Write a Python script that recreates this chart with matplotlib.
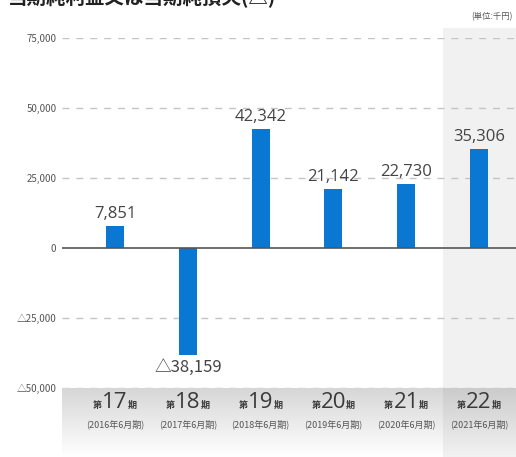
import matplotlib
matplotlib.use("Agg")
import matplotlib.pyplot as plt
import numpy as np

plt.rcParams['font.family'] = ['Noto Sans CJK JP', 'DejaVu Sans']

periods = ["17", "18", "19", "20", "21", "22"]
fiscal = ["(2016年6月期)", "(2017年6月期)", "(2018年6月期)", "(2019年6月期)", "(2020年6月期)", "(2021年6月期)"]
values = [7851, -38159, 42342, 21142, 22730, 35306]
yticks = [75000, 50000, 25000, 0, -25000, -50000]
ytick_labels = ["75,000", "50,000", "25,000", "0", "△25,000", "△50,000"]
title = "当期純利益又は当期純損失(△)"
unit = "(単位:千円)"

W, H = 516, 457
fig = plt.figure(figsize=(W / 100, H / 100), dpi=100)

def fx(px):
    return px / W

def fy(py):
    return 1 - py / H

xl = (-0.73, 5.51)
# category band with gradient
band = fig.add_axes([fx(62), fy(457), fx(516) - fx(62), fy(388) - fy(457)])
grad = np.linspace(0, 1, 100).reshape(-1, 1)
band.imshow(grad, aspect='auto', cmap=matplotlib.colors.LinearSegmentedColormap.from_list('g', ['#ffffff', '#d6d6d6']),
            extent=[xl[0], xl[1], 0, 1], origin='lower', zorder=0)
band.imshow(grad, aspect='auto', cmap=matplotlib.colors.LinearSegmentedColormap.from_list('g2', ['#f2f2f2', '#cbcbcb']),
            extent=[4.5, xl[1], 0, 1], origin='lower', zorder=1)
band.set_xlim(*xl)
band.set_ylim(0, 1)
band.axis('off')
for i, (p, f) in enumerate(zip(periods, fiscal)):
    band.text(i, 0.79, p, ha='center', va='center', fontsize=16, color='#3a3a3a', family=['Open Sans', 'DejaVu Sans'])
    band.annotate("第", (i, 0.74), xytext=(-12.5, 0), textcoords='offset points', ha='center', va='center', fontsize=6.5, color='#3a3a3a', fontweight='bold')
    band.annotate("期", (i, 0.74), xytext=(12.5, 0), textcoords='offset points', ha='center', va='center', fontsize=6.5, color='#3a3a3a', fontweight='bold')
    band.text(i, 0.47, f, ha='center', va='center', fontsize=6.5, color='#555555')

ax = fig.add_axes([fx(62), fy(388), fx(516) - fx(62), fy(38) - fy(388)])
ax.set_xlim(*xl)
ax.set_ylim(-50000, 75000)
ax.axvspan(4.5, xl[1], color='#f1f1f1', zorder=0, lw=0)
# extend highlight above the plot
hl = fig.add_axes([fx(443), fy(38), fx(516) - fx(443), fy(28) - fy(38)])
hl.axis('off')
hl.add_patch(plt.Rectangle((0, 0), 1, 1, color='#f1f1f1', transform=hl.transAxes))

for yv in yticks:
    if yv != 0:
        ax.axhline(yv, color='#c4c4c4', lw=1.0, ls=(0, (5, 5)), zorder=1)
ax.axhline(0, color='#555555', lw=1.2, zorder=3)

x = np.arange(len(values))
ax.bar(x, values, width=0.25, color='#0a78d2', zorder=2)
for xi, v in zip(x, values):
    if v >= 0:
        ax.text(xi, v + 1500, f"{v:,}", ha='center', va='bottom', fontsize=12, color='#444444', family=['Open Sans', 'DejaVu Sans'])
    else:
        ax.text(xi, v - 1500, f"△{-v:,}", ha='center', va='top', fontsize=12, color='#444444', family=['Noto Sans CJK JP'])

ax.set_yticks(yticks)
ax.set_yticklabels(ytick_labels, fontsize=7, color='#555555')
ax.tick_params(axis='y', length=0, pad=4)
ax.set_xticks([])
for s in ax.spines.values():
    s.set_visible(False)
ax.patch.set_alpha(0)

fig.text(fx(8), fy(3), title, ha='left', va='baseline', fontsize=14, fontweight='bold', color='#222222')
fig.text(fx(513), fy(17), unit, ha='right', va='center', fontsize=6, color='#555555')

fig.savefig("out.png", dpi=100)
